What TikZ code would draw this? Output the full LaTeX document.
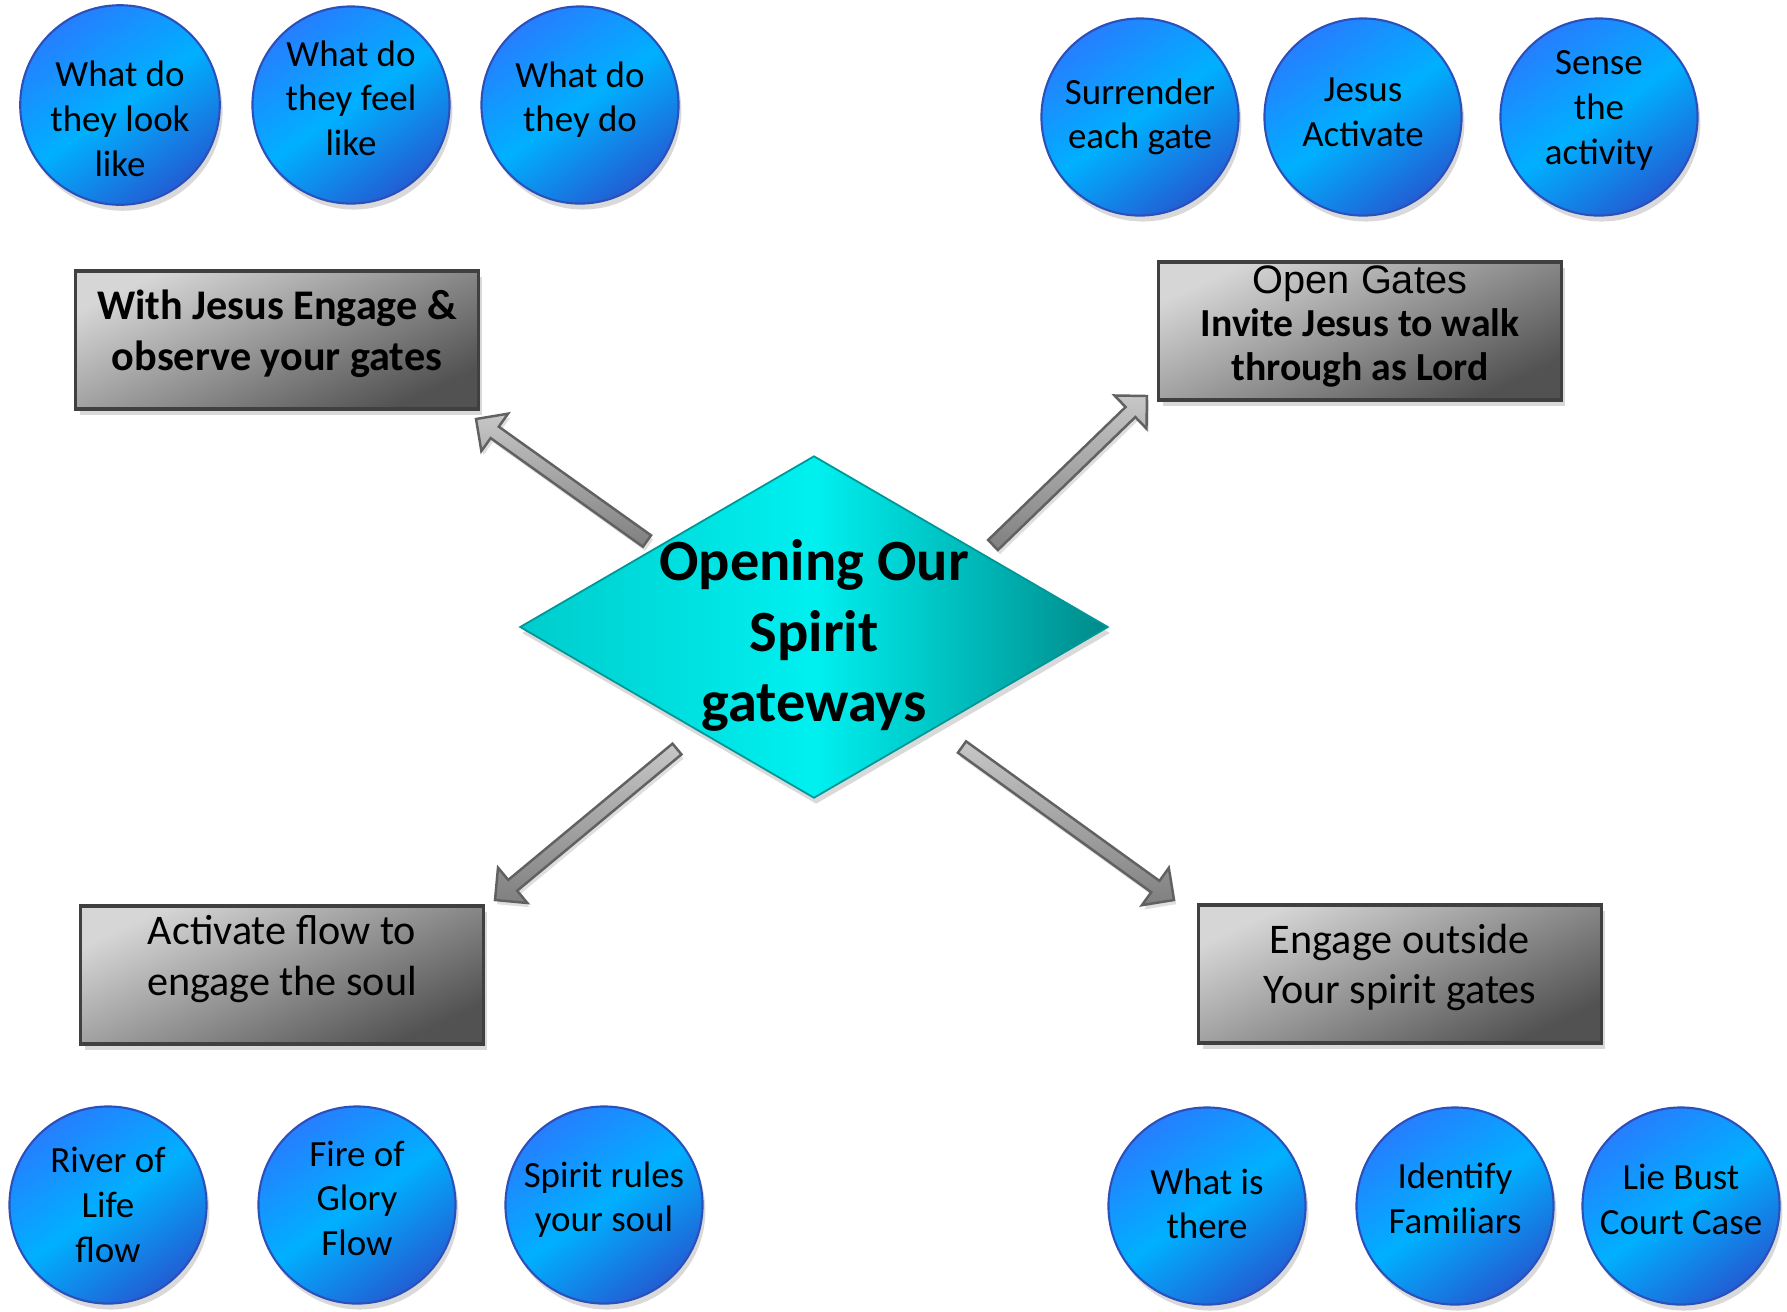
\documentclass[tikz,border=0pt]{standalone}
\usepackage{fontspec}
\setmainfont{Carlito}
\newfontfamily\arialfont{Liberation Sans}
\usetikzlibrary{shapes.geometric,shadows,calc}

\definecolor{gatetop}{RGB}{38,126,255}
\definecolor{gatemid}{RGB}{0,176,255}
\definecolor{gatebot}{RGB}{34,94,212}
\definecolor{gateline}{RGB}{44,80,186}
\definecolor{coreleft}{RGB}{0,204,204}
\definecolor{coremid}{RGB}{0,240,240}
\definecolor{coreright}{RGB}{0,138,138}
\definecolor{coreline}{RGB}{0,150,150}

\newcommand{\blockarrow}[2]{%
  \coordinate (#2-base) at ($(#2)!0.23cm!(#1)$);
  \draw[blockarrow] ($(#1)!0.07cm!90:(#2)$) -- ($(#2-base)!0.07cm!90:(#2)$)
    -- ($(#2-base)!0.23cm!90:(#2)$) -- (#2) -- ($(#2-base)!0.23cm!-90:(#2)$)
    -- ($(#2-base)!0.07cm!-90:(#2)$) -- ($(#1)!0.07cm!-90:(#2)$) -- cycle;}

\begin{document}
\begin{tikzpicture}[x=0.01cm, y=-0.01cm,
    gate/.style={circle, draw=gateline, line width=.6pt, minimum size=1.97cm, inner sep=0,
      top color=gatetop, bottom color=gatebot, middle color=gatemid, shading angle=35,
      drop shadow={shadow xshift=.8pt, shadow yshift=-1.7pt, opacity=.3},
      align=center, font=\fontsize{10.5}{12.7}\selectfont},
    panel/.style={rectangle, draw=black!75, line width=.9pt, minimum width=4.02cm,
      minimum height=1.38cm, inner sep=0, top color=black!16, bottom color=black!68,
      shading angle=25, drop shadow={shadow xshift=1.2pt, shadow yshift=-1.7pt, opacity=.3},
      align=center, font=\fontsize{12}{14.4}\selectfont},
    core/.style={diamond, draw=coreline, line width=.5pt, minimum width=5.88cm,
      minimum height=3.42cm, inner sep=0, left color=coreleft, right color=coreright,
      middle color=coremid, drop shadow={shadow xshift=.6pt, shadow yshift=-1.7pt, opacity=.3}},
    core text/.style={align=center, inner sep=0, font=\fontsize{16.6}{20.1}\selectfont\bfseries},
    blockarrow/.style={draw=black!62, line width=.7pt, top color=black!22, bottom color=black!50,
      drop shadow={shadow xshift=.6pt, shadow yshift=-1.2pt, opacity=.25}}]
  \useasboundingbox (0,0) rectangle (1787,1311);

  \node [core, label={[core text, yshift=-0.085cm]center:{Opening Our\\Spirit\\gateways}}] (core) at (814,627) {};

  \node [panel, text depth=5.4pt, font=\fontsize{12}{14.6}\selectfont\bfseries] (observe) at (277,340) {With Jesus Engage \&\\observe your gates};
  \node [panel, text depth=4.6pt, font=\fontsize{11.3}{12.3}\selectfont] (open) at (1360,331) {{\arialfont Open Gates}\\\textbf{Invite Jesus to walk}\\\textbf{through as Lord}};
  \node [panel, text depth=11.3pt] (flow) at (282,975) {Activate flow to\\engage the soul};
  \node [panel, text depth=5.7pt] (outside) at (1400,974) {Engage outside\\Your spirit gates};

  \node [gate, text height=40.5pt] (look) at (120,105) {What do\\they look\\like};
  \node [gate, text depth=3.9pt] (feel) at (351,105) {What do\\they feel\\like};
  \node [gate, text depth=4.8pt] (do) at (580,105) {What do\\they do};
  \node [gate] (surrender) at (1140,117) {Surrender\\each gate};
  \node [gate, text depth=2.6pt] (activate) at (1363,117) {Jesus\\Activate};
  \node [gate, text depth=5.4pt] (sense) at (1599,117) {Sense\\the\\activity};
  \node [gate] (river) at (108,1205) {River of\\Life\\flow};
  \node [gate, text depth=3.9pt] (fire) at (357,1205) {Fire of\\Glory\\Flow};
  \node [gate, text depth=4.8pt] (rules) at (604,1205) {Spirit rules\\your soul};
  \node [gate, text depth=1.3pt] (there) at (1207,1206) {What is\\there};
  \node [gate, text depth=4.6pt] (familiars) at (1455,1206) {Identify\\Familiars};
  \node [gate, text depth=3.9pt] (bust) at (1681,1206) {Lie Bust\\Court Case};

  \coordinate (from-tl) at (647,541);
  \coordinate (tip-tl) at (476,419);
  \coordinate (from-tr) at (993,545);
  \coordinate (tip-tr) at (1147,396);
  \coordinate (from-bl) at (677,749);
  \coordinate (tip-bl) at (495,900);
  \coordinate (from-br) at (962,747);
  \coordinate (tip-br) at (1174,900);
  \blockarrow{from-tl}{tip-tl}
  \blockarrow{from-tr}{tip-tr}
  \blockarrow{from-bl}{tip-bl}
  \blockarrow{from-br}{tip-br}
\end{tikzpicture}
\end{document}
